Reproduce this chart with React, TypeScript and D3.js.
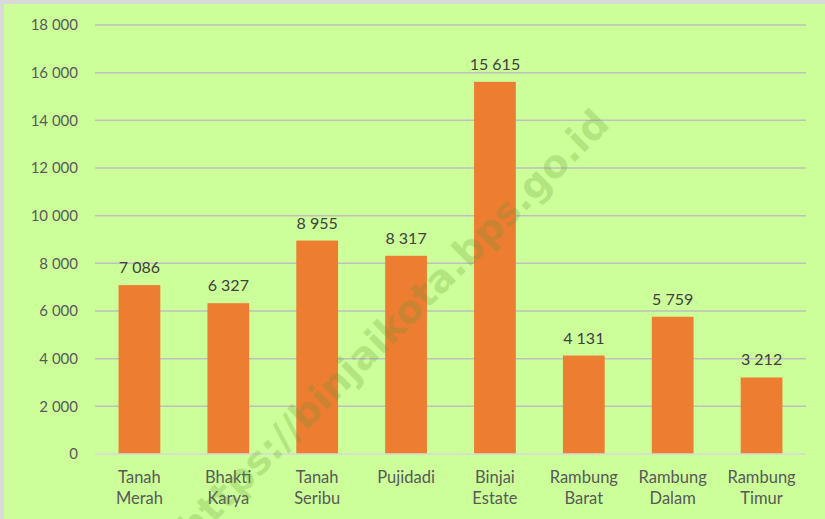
import React, { useEffect, useRef } from 'react'
import * as d3 from 'd3'

// kelurahan names, split into two lines like the original
const categories = ['Tanah Merah', 'Bhakti Karya', 'Tanah Seribu', 'Pujidadi', 'Binjai Estate', 'Rambung Barat', 'Rambung Dalam', 'Rambung Timur']
const labelLines = [['Tanah', 'Merah'], ['Bhakti', 'Karya'], ['Tanah', 'Seribu'], ['Pujidadi'], ['Binjai', 'Estate'], ['Rambung', 'Barat'], ['Rambung', 'Dalam'], ['Rambung', 'Timur']]
const values = [7086, 6327, 8955, 8317, 15615, 4131, 5759, 3212]
const yTicks = [0, 2000, 4000, 6000, 8000, 10000, 12000, 14000, 16000, 18000]

const App = () => {
    const ref = useRef<SVGSVGElement>(null)

    const W = 825, H = 519
    const left = 95, right = 806, top = 25, bottom = 454

    useEffect(() => {
        const svg = d3.select(ref.current)
        svg.selectAll('*').remove()

        const fmt = d3.formatLocale({ decimal: ',', thousands: ' ', grouping: [3], currency: ['', ''] }).format(',d')

        const x = d3.scaleBand<string>().domain(categories).range([left, right]).paddingInner(0.53).paddingOuter(0.265)
        const y = d3.scaleLinear().domain([0, 18000]).range([bottom, top])

        svg.append('rect').attr('width', W).attr('height', H).attr('fill', '#ccff99')
        // frame on left and top
        svg.append('rect').attr('x', 0).attr('y', 0).attr('width', 4).attr('height', H).attr('fill', '#d9d9d9')
        svg.append('rect').attr('x', 0).attr('y', 0).attr('width', W).attr('height', 4).attr('fill', '#d9d9d9')

        const font = 'Lato, "Open Sans", sans-serif'

        // gridlines
        svg.append('g').selectAll('line')
            .data(yTicks.filter(d => d > 0))
            .enter().append('line')
            .attr('x1', left).attr('x2', right)
            .attr('y1', d => y(d)).attr('y2', d => y(d))
            .attr('stroke', '#bfbfbf').attr('stroke-width', 1.5)

        // y tick labels
        svg.append('g').selectAll('text')
            .data(yTicks)
            .enter().append('text')
            .attr('x', 78).attr('y', d => y(d))
            .attr('dy', '0.35em')
            .attr('text-anchor', 'end')
            .style('font-family', font).style('font-size', '15px')
            .attr('fill', '#595959')
            .text(d => fmt(d))

        // bars
        svg.append('g').selectAll('rect')
            .data(values)
            .enter().append('rect')
            .attr('x', (d, i) => x(categories[i])!)
            .attr('width', x.bandwidth())
            .attr('y', d => y(d))
            .attr('height', d => y(0) - y(d))
            .attr('fill', '#ed7d31')

        // baseline
        svg.append('line')
            .attr('x1', left).attr('x2', right)
            .attr('y1', y(0)).attr('y2', y(0))
            .attr('stroke', '#d9d9d9').attr('stroke-width', 1.5)

        // value labels
        svg.append('g').selectAll('text')
            .data(values)
            .enter().append('text')
            .attr('x', (d, i) => x(categories[i])! + x.bandwidth() / 2)
            .attr('y', d => y(d) - 12)
            .attr('text-anchor', 'middle')
            .style('font-family', font).style('font-size', '16px')
            .attr('fill', '#404040')
            .text(d => fmt(d))

        // category labels
        const cat = svg.append('g').selectAll('text')
            .data(labelLines)
            .enter().append('text')
            .attr('x', (d, i) => x(categories[i])! + x.bandwidth() / 2)
            .attr('y', 483)
            .attr('text-anchor', 'middle')
            .style('font-family', font).style('font-size', '16.5px')
            .attr('fill', '#595959')
        cat.selectAll('tspan')
            .data((d, i) => d.map(t => ({ t, i })))
            .enter().append('tspan')
            .attr('x', d => x(categories[d.i])! + x.bandwidth() / 2)
            .attr('dy', (d, j) => j === 0 ? 0 : 21)
            .text(d => d.t)

        // watermark, faint, over everything
        svg.append('text')
            .attr('transform', 'translate(393,325) rotate(-45)')
            .attr('text-anchor', 'middle')
            .attr('dy', '0.35em')
            .style('font-family', '"DejaVu Sans", Verdana, sans-serif')
            .style('font-weight', 'bold')
            .style('font-size', '38.5px')
            .attr('fill', '#649632')
            .attr('fill-opacity', 0.25)
            .text('https://binjaikota.bps.go.id')
    }, [])

    return (
        <svg ref={ref} width={W} height={H}
            style={{ position: 'absolute', left: 0, top: 0, display: 'block' }}>
        </svg>
    )
}
export default App
